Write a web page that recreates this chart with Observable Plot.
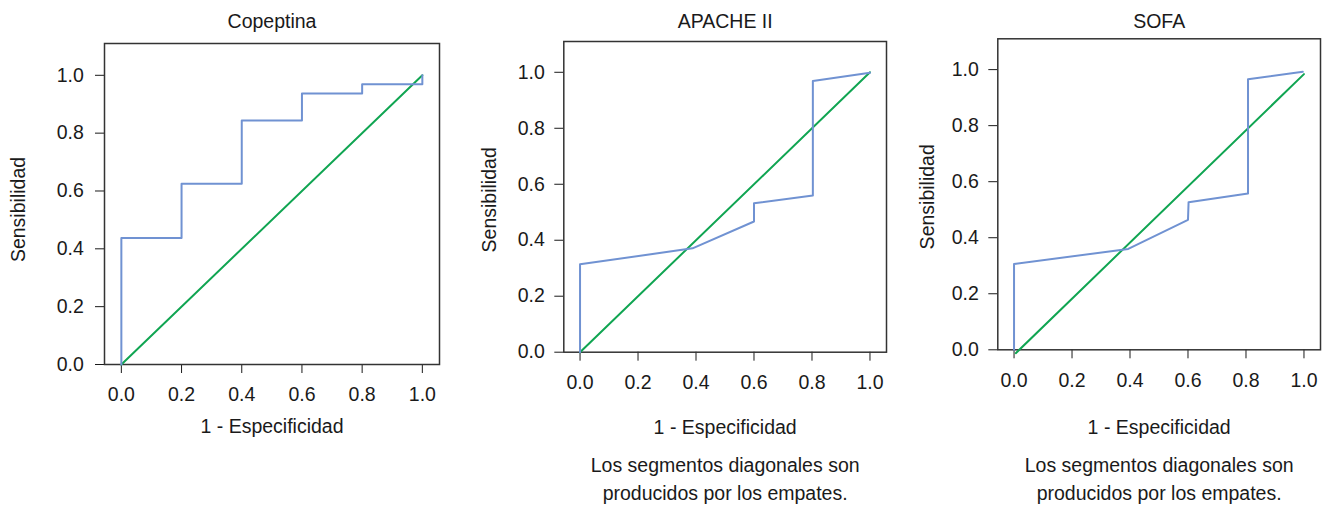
<!DOCTYPE html>
<html>
<head>
<meta charset="utf-8">
<script src="https://cdn.jsdelivr.net/npm/d3@7"></script>
<script src="https://cdn.jsdelivr.net/npm/@observablehq/plot@0.6"></script>
<style>
  body { margin: 0; background: #fff; }
  #wrap { position: relative; width: 1330px; height: 507px; overflow: hidden; background: #fff; }
  .panel { position: absolute; top: 0; }
</style>
</head>
<body>
<div id="wrap"></div>
<script>
// ---- data ----
const panelTitles = ["Copeptina", "APACHE II", "SOFA"];
const xLabel = "1 - Especificidad";
const yLabel = "Sensibilidad";
const footnoteLines = ["Los segmentos diagonales son", "producidos por los empates."];
const tickValues = [0, 0.2, 0.4, 0.6, 0.8, 1.0];

const copeptinaX = [0, 0, 0.2, 0.2, 0.4, 0.4, 0.6, 0.6, 0.8, 0.8, 1, 1];
const copeptinaY = [0, 0.4375, 0.4375, 0.625, 0.625, 0.84375, 0.84375, 0.9375, 0.9375, 0.96875, 0.96875, 1];

const apacheX = [0, 0, 0.388, 0.6, 0.6, 0.803, 0.803, 1.0];
const apacheY = [0, 0.314, 0.371, 0.467, 0.532, 0.56, 0.969, 0.998];

const sofaX = [0, 0, 0.394, 0.6, 0.602, 0.807, 0.807, 0.996];
const sofaY = [0, 0.306, 0.36, 0.464, 0.527, 0.558, 0.966, 0.992];

const refX = [[0, 1], [0, 1], [0.006, 1]];
const refY = [[0, 1], [0, 1], [-0.012, 0.984]];

const curvesX = [copeptinaX, apacheX, sofaX];
const curvesY = [copeptinaY, apacheY, sofaY];
const hasFootnote = [false, true, true];

// ---- layout (positions / styles) ----
const layout = [
  {left: 0,   width: 450, mL: 104,   mR: 11, mT: 43,   mB: 143,   pad: 11.7, yDx: -86, yDy: 5.5, tDy: -29,   xDy: 55,   fDy: 0},
  {left: 460, width: 430, mL: 103.3, mR: 4,  mT: 41,   mB: 155.3, pad: 10,   yDx: -74, yDy: 3,   tDy: -27,   xDy: 68.3, fDy: 100.3},
  {left: 900, width: 430, mL: 97.3,  mR: 10, mT: 38.3, mB: 157.7, pad: 10,   yDx: -70, yDy: 2.5, tDy: -24.3, xDy: 70,   fDy: 102.7}
];
const blue = "#7092d2";
const green = "#10a552";
const ink = "#1a1a1a";
const font = "'Liberation Sans', Arial, Helvetica, sans-serif";
const fs = 19.5;

const wrap = document.getElementById("wrap");

panelTitles.forEach((title, i) => {
  const L = layout[i];
  const curve = curvesX[i].map((x, j) => ({x, y: curvesY[i][j]}));
  const ref = refX[i].map((x, j) => ({x, y: refY[i][j]}));
  const marks = [
    Plot.frame({stroke: "#333", strokeWidth: 1.5}),
    Plot.line(ref, {x: "x", y: "y", stroke: green, strokeWidth: 2}),
    Plot.line(curve, {x: "x", y: "y", stroke: blue, strokeWidth: 2}),
    Plot.text([title], {text: d => d, frameAnchor: "top", lineAnchor: "top", dy: L.tDy, fontSize: fs, fill: ink}),
    Plot.text([xLabel], {text: d => d, frameAnchor: "bottom", lineAnchor: "top", dy: L.xDy, fontSize: fs, fill: ink}),
    Plot.text([yLabel], {text: d => d, frameAnchor: "left", textAnchor: "middle", lineAnchor: "middle", rotate: -90, dx: L.yDx, dy: L.yDy, fontSize: fs, fill: ink})
  ];
  if (hasFootnote[i]) {
    marks.push(Plot.text([footnoteLines.join("\n")], {text: d => d, frameAnchor: "bottom", lineAnchor: "top", lineHeight: 1.41, dy: L.fDy, fontSize: fs, fill: ink}));
  }
  const chart = Plot.plot({
    width: L.width,
    height: 507,
    marginLeft: L.mL,
    marginRight: L.mR,
    marginTop: L.mT,
    marginBottom: L.mB,
    style: {fontFamily: font, fontSize: fs + "px", color: ink, background: "white", overflow: "visible"},
    x: {domain: [-0.056, 1.057], ticks: tickValues, tickFormat: d3.format(".1f"), tickSize: 9, tickPadding: 14, label: null},
    y: {domain: [0, 1.11], ticks: tickValues, tickFormat: d3.format(".1f"), tickSize: 9, tickPadding: L.pad, label: null},
    marks
  });
  const div = document.createElement("div");
  div.className = "panel";
  div.style.left = L.left + "px";
  div.appendChild(chart);
  wrap.appendChild(div);
});
</script>
</body>
</html>
